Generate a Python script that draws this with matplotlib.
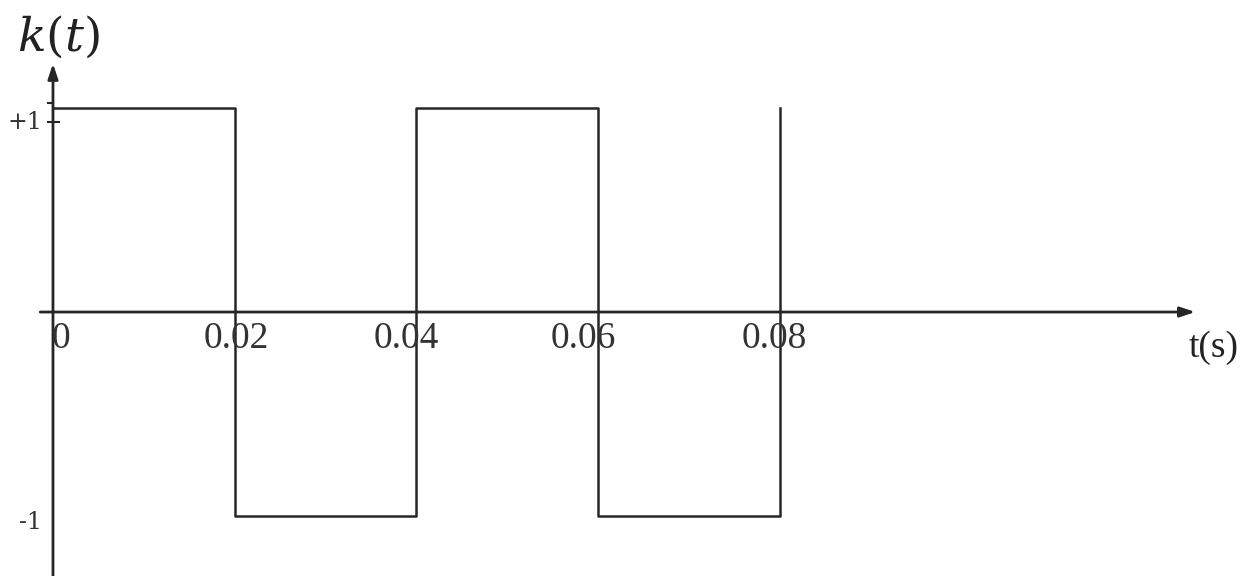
import matplotlib.pyplot as plt

# square wave k(t): switching instants and the level after each one
t_edges = [0, 0.02, 0.04, 0.06, 0.08]
k_levels = [1, -1, 1, -1, 1]

xtick_vals = [0, 0.02, 0.04, 0.06, 0.08]
xtick_labels = ["0", "0.02", "0.04", "0.06", "0.08"]
ytick_vals = [1, -1]
ytick_labels = ["+1", "-1"]

plt.rcParams['mathtext.fontset'] = 'dejavuserif'
line_col = "#262626"

fig = plt.figure(figsize=(12.54, 5.76), dpi=100)
ax = fig.add_axes([0, 0, 1, 1])
ax.set_xlim(-0.00583, 0.13216)
ax.set_ylim(-1.291, 1.526)
ax.axis("off")

# axes with arrow heads
ax.annotate("", xy=(0.1257, 0), xytext=(-0.0014, 0),
            arrowprops=dict(arrowstyle="-|>,head_length=0.9,head_width=0.3",
                            lw=2, color=line_col, shrinkA=0, shrinkB=0))
ax.annotate("", xy=(0, 1.215), xytext=(0, -1.3),
            arrowprops=dict(arrowstyle="-|>,head_length=0.9,head_width=0.3",
                            lw=2, color=line_col, shrinkA=0, shrinkB=0))

# waveform
ax.step(t_edges, k_levels, where="post", color=line_col, lw=1.8)

# small marks on the k axis near +1
ax.plot([-0.0006, 0.0007], [0.93, 0.93], color=line_col, lw=1.5)
ax.plot([-0.0006, 0], [1.02, 1.02], color=line_col, lw=1.5)

# tick labels
x_offsets = [0.00088, 0.0002, -0.0011, -0.00165, -0.0006]
for v, lab, dx in zip(xtick_vals, xtick_labels, x_offsets):
    ax.text(v + dx, -0.13, lab, ha="center", va="center",
            family="Liberation Serif", fontsize=27, color="#333333")
y_offsets = [-0.075, -0.03]
for v, lab, dy in zip(ytick_vals, ytick_labels, y_offsets):
    ax.text(-0.0012, v + dy, lab, ha="right", va="center",
            family="DejaVu Serif", fontsize=17, color="#333333")

ax.text(0.1277, -0.175, "t(s)", ha="center", va="center",
        family="Liberation Serif", fontsize=27, color="#222222")
ax.text(-0.0040, 1.345, "$k(t)$", ha="left", va="center",
        fontsize=34, color="#222222")

fig.savefig("out.png", dpi=100)
